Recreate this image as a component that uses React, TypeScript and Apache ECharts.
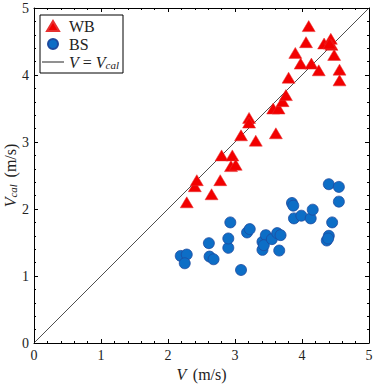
import React, { useEffect, useRef } from "react";
import * as echarts from "echarts";

const wbV = [2.28, 2.40, 2.43, 2.65, 2.78, 2.80, 2.96, 2.94, 3.01, 3.09, 3.31, 3.21, 3.21, 3.57, 3.65, 3.61, 3.71, 3.76, 3.80, 3.90, 3.98, 4.06, 4.10, 4.14, 4.25, 4.33, 4.43, 4.44, 4.41, 4.48, 4.56, 4.56];
const wbVcal = [2.10, 2.34, 2.43, 2.22, 2.43, 2.80, 2.80, 2.64, 2.66, 3.10, 3.02, 3.36, 3.29, 3.50, 3.50, 3.13, 3.61, 3.70, 3.96, 4.33, 4.17, 4.49, 4.73, 4.17, 4.07, 4.47, 4.54, 4.45, 4.47, 4.30, 4.08, 3.92];

const bsV = [2.19, 2.28, 2.25, 2.61, 2.62, 2.68, 2.90, 2.90, 2.93, 3.09, 3.18, 3.22, 3.41, 3.41, 3.46, 3.43, 3.55, 3.63, 3.68, 3.66, 3.85, 3.87, 3.88, 3.99, 4.13, 4.16, 4.40, 4.55, 4.55, 4.45, 4.40, 4.37, 4.39];
const bsVcal = [1.30, 1.32, 1.19, 1.49, 1.29, 1.25, 1.42, 1.56, 1.80, 1.09, 1.65, 1.70, 1.39, 1.51, 1.61, 1.46, 1.55, 1.64, 1.61, 1.38, 2.09, 2.05, 1.86, 1.90, 1.86, 1.99, 2.37, 2.33, 2.11, 1.80, 1.60, 1.53, 1.56];

const identity = [[0, 0], [5, 5]];
const axisMin = 0;
const axisMax = 5;
const axisStep = 1;

const FONT = "Liberation Serif";

export default function App() {
  const ref = useRef<HTMLDivElement>(null);
  useEffect(() => {
    if (!ref.current) return;
    const chart = echarts.init(ref.current, undefined, { renderer: "svg" });
    const tickCommon = {
      axisLine: { show: true, onZero: false, lineStyle: { color: "#000", width: 1 } },
      axisTick: { show: true, inside: true, length: 4, lineStyle: { color: "#000" } },
      minorTick: { show: true, splitNumber: 5, length: 2, lineStyle: { color: "#000" } },
      splitLine: { show: false },
      min: axisMin,
      max: axisMax,
      interval: axisStep,
    };
    const rich = {
      i: { fontFamily: FONT, fontStyle: "italic", fontSize: 16, color: "#222" },
      n: { fontFamily: FONT, fontSize: 16, color: "#222" },
      sub: { fontFamily: FONT, fontStyle: "italic", fontSize: 11, color: "#222", padding: [5, 0, 0, 0] },
    };
    chart.setOption({
      animation: false,
      backgroundColor: "#fff",
      grid: { left: 34, right: 5, top: 8, bottom: 42, containLabel: false, outerBoundsMode: "none" },
      xAxis: [
        {
          type: "value",
          position: "bottom",
          ...tickCommon,
          axisLabel: { color: "#222", fontFamily: FONT, fontSize: 14, margin: 5, hideOverlap: false },
          name: "{i|V}  {n|(m/s)}",
          nameLocation: "middle",
          nameGap: 23,
          nameMoveOverlap: false,
          nameTextStyle: { rich },
        },
        {
          type: "value",
          position: "top",
          ...tickCommon,
          axisLabel: { show: false },
        },
      ],
      yAxis: [
        {
          type: "value",
          position: "left",
          ...tickCommon,
          axisLabel: { color: "#222", fontFamily: FONT, fontSize: 14, margin: 5 },
          name: "{i|V}{sub|cal}  {n|(m/s)}",
          nameLocation: "middle",
          nameGap: 16,
          nameMoveOverlap: false,
          nameTextStyle: { rich },
        },
        {
          type: "value",
          position: "right",
          ...tickCommon,
          axisLabel: { show: false },
        },
      ],
      legend: {
        left: 40,
        top: 15,
        orient: "vertical",
        backgroundColor: "#fff",
        borderColor: "#000",
        borderWidth: 1,
        borderRadius: 0,
        padding: [3, 4, 3, 2],
        itemGap: 2,
        itemWidth: 22,
        itemHeight: 10,
        symbolKeepAspect: true,
        textStyle: { fontFamily: FONT, fontSize: 16, color: "#222", rich },
        formatter: (name: string) => (name === "line" ? "{i|V} {n|=} {i|V}{sub|cal}" : name),
        data: [
          { name: "WB", icon: "path://M6,0 L12,10 L0,10 Z" },
          { name: "BS", icon: "path://M5,0 A5,5 0 1,1 5,10 A5,5 0 1,1 5,0 Z" },
          { name: "line", icon: "path://M0,0 H22 V1 H0 Z" },
        ],
      },
      series: [
        {
          name: "line",
          type: "line",
          data: identity,
          symbol: "none",
          lineStyle: { color: "#222", width: 0.8 },
          itemStyle: { color: "#222" },
          z: 1,
        },
        {
          name: "BS",
          type: "scatter",
          data: bsV.map((v, i) => [v, bsVcal[i]]),
          symbol: "circle",
          symbolSize: 11,
          itemStyle: { color: "#0d6ec6", borderColor: "#1f4a9e", borderWidth: 0.8, opacity: 1 },
          z: 2,
        },
        {
          name: "WB",
          type: "scatter",
          data: wbV.map((v, i) => [v, wbVcal[i]]),
          symbol: "triangle",
          symbolSize: [13, 11],
          itemStyle: { color: "#f20000", borderColor: "#e63030", borderWidth: 0.5, opacity: 1 },
          z: 3,
        },
      ],
    });
    return () => chart.dispose();
  }, []);
  return <div ref={ref} style={{ width: 374, height: 385, position: "absolute", left: 0, top: 0 }} />;
}
